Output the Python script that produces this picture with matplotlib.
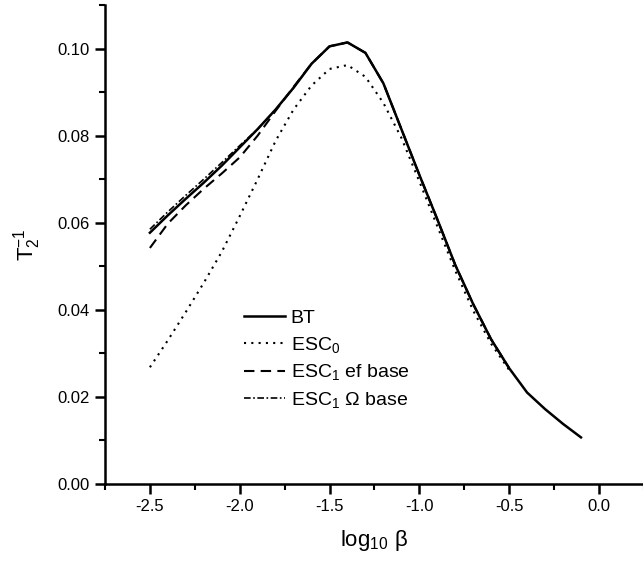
import matplotlib
matplotlib.use('Agg')
import matplotlib.pyplot as plt
from matplotlib.ticker import MultipleLocator

plt.rcParams['font.family'] = ['Liberation Sans', 'DejaVu Sans']
plt.rcParams['mathtext.fontset'] = 'custom'
plt.rcParams['mathtext.rm'] = 'Liberation Sans'
plt.rcParams['mathtext.it'] = 'Liberation Sans:italic'

# log10 beta grid
x_bt = [-2.5, -2.4, -2.3, -2.2, -2.1, -2.0, -1.9, -1.8, -1.7, -1.6, -1.5, -1.4, -1.3,
        -1.2, -1.1, -1.0, -0.9, -0.8, -0.7, -0.6, -0.5, -0.4, -0.3, -0.2, -0.1]
bt = [0.0577, 0.0617, 0.0655, 0.0692, 0.0731, 0.0773, 0.0815, 0.0860, 0.0910, 0.0965,
      0.1005, 0.1014, 0.0990, 0.0920, 0.0815, 0.0710, 0.0608, 0.0503, 0.0413, 0.0332,
      0.0266, 0.0210, 0.0172, 0.0138, 0.0107]

x_esc = x_bt[:21]
esc0 = [0.0268, 0.0330, 0.0395, 0.0462, 0.0533, 0.0615, 0.0700, 0.0788, 0.0860, 0.0915,
        0.0953, 0.0962, 0.0935, 0.0875, 0.0795, 0.0695, 0.0592, 0.0490, 0.0398, 0.0322,
        0.0262]
esc1_ef = [0.0542, 0.0598, 0.0640, 0.0678, 0.0713, 0.0750, 0.0800, 0.0857, 0.0912, 0.0965,
           0.1005, 0.1014, 0.0990, 0.0920, 0.0815, 0.0710, 0.0608, 0.0503, 0.0413, 0.0332,
           0.0266]
esc1_om = [0.0585, 0.0625, 0.0663, 0.0700, 0.0738, 0.0777, 0.0815, 0.0860, 0.0910, 0.0965,
           0.1005, 0.1014, 0.0990, 0.0920, 0.0815, 0.0710, 0.0608, 0.0503, 0.0413, 0.0332,
           0.0266]

fig = plt.figure(figsize=(6.43, 5.65), dpi=100)
ax = fig.add_axes([0.1633, 0.1434, 0.838, 0.8478])

ax.plot(x_bt, bt, 'k-', lw=1.8, label='BT')
ax.plot(x_esc, esc0, color='k', lw=1.5, ls=(0, (1, 2.5)), label='ESC$_0$')
ax.plot(x_esc, esc1_ef, color='k', lw=1.5, ls=(0, (5, 3)), label='ESC$_1$ ef base')
ax.plot(x_esc, esc1_om, color='k', lw=1.2, ls=(0, (4, 1.5, 1, 1.5)), label='ESC$_1$ Ω base')

ax.set_xlim(-2.75, 0.25)
ax.set_ylim(0, 0.11)
ax.xaxis.set_major_locator(MultipleLocator(0.5))
ax.xaxis.set_minor_locator(MultipleLocator(0.25))
ax.yaxis.set_major_locator(MultipleLocator(0.02))
ax.yaxis.set_minor_locator(MultipleLocator(0.01))
ax.xaxis.set_major_formatter(plt.FuncFormatter(lambda v, p: '%.1f' % v))
ax.yaxis.set_major_formatter(plt.FuncFormatter(lambda v, p: '%.2f' % v))

for s in ['top', 'right']:
    ax.spines[s].set_visible(False)
for s in ['left', 'bottom']:
    ax.spines[s].set_linewidth(1.8)
ax.tick_params(which='major', direction='out', length=7, width=1.8, labelsize=12, pad=4)
ax.tick_params(which='minor', direction='out', length=4, width=1.5)

ax.set_xlabel(r'log$_{10}$ β', fontsize=16, labelpad=10)
ax.set_ylabel(r'T$_2^{-1}$', fontsize=16, labelpad=10)

ax.legend(loc='upper left', bbox_to_anchor=(0.24, 0.385), frameon=False, fontsize=14,
          handlelength=2.1, handletextpad=0.3, labelspacing=0.4, borderpad=0)

fig.savefig('out.png', dpi=100)
